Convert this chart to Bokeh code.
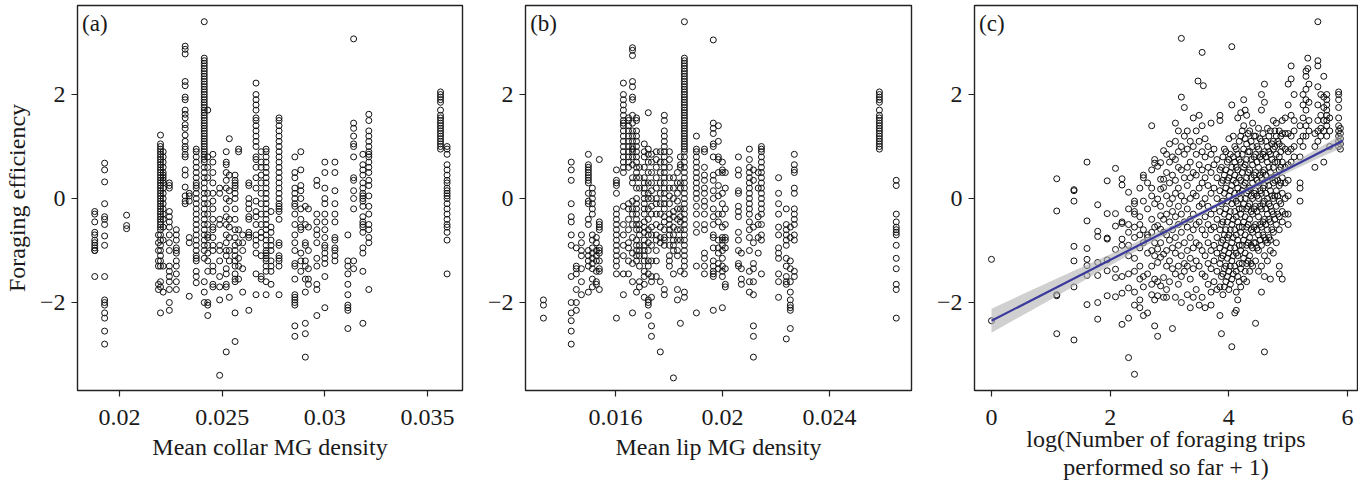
from bokeh.plotting import figure
from bokeh.layouts import row
from bokeh.models import Range1d, FixedTicker, CustomJSTickFormatter, Label
from bokeh.embed import file_html
from bokeh.resources import INLINE

FONT = "Liberation Serif"

# ---------------- Panel (a): mean collar MG density ----------------
a_density = [0.01880, 0.01928, 0.02035, 0.02190, 0.02200, 0.02213, 0.02243, 0.02277,
             0.02320, 0.02340, 0.02374, 0.02413, 0.02430, 0.02455, 0.02488, 0.02520,
             0.02535, 0.02563, 0.02580, 0.02600, 0.02630, 0.02665, 0.02690, 0.02714,
             0.02738, 0.02777, 0.02854, 0.02883, 0.02905, 0.02920, 0.02961, 0.03000,
             0.03049, 0.03112, 0.03140, 0.03185, 0.03214, 0.03563, 0.03595]
a_eff = [
    [-0.25, -0.3, -0.45, -0.65, -0.7, -0.8, -0.85, -0.9, -0.95, -1.0, -1.0, -1.5],
    [0.68, 0.55, 0.32, -0.1, -0.35, -0.4, -0.5, -0.72, -0.9, -1.5, -1.95, -2.0, -2.05, -2.2, -2.3, -2.55, -2.8],
    [-0.32, -0.52, -0.58],
    [-0.7, -0.85, -1.0, -1.2, -1.3, -1.65, -1.75],
    [1.22, 1.05, 1.0, 0.95, 0.9, 0.85, 0.8, 0.75, 0.7, 0.65, 0.6, 0.55, 0.5, 0.45, 0.4, 0.35, 0.3, 0.25,
     0.2, 0.15, 0.1, 0.05, 0.0, -0.05, -0.1, -0.15, -0.2, -0.25, -0.3, -0.35, -0.4, -0.45, -0.5, -0.55,
     -0.6, -0.7, -0.8, -0.9, -1.0, -1.1, -1.2, -1.3, -1.6, -1.7, -2.2],
    [0.9, 0.8, 0.7, 0.6, 0.5, 0.45, 0.4, 0.35, 0.3, 0.2, 0.1, 0.0, -0.1, -0.2, -0.3, -0.4, -0.55, -0.8, -1.3, -1.8],
    [0.3, 0.25, 0.2, -0.25, -0.35, -0.45, -0.55, -0.7, -0.85, -1.0, -1.3, -1.4, -1.5, -1.6, -1.75, -2.0, -2.15],
    [-0.6, -0.7, -0.8, -0.95, -1.0, -1.05, -1.2, -1.3, -1.45, -1.6, -1.75],
    [2.93, 2.87, 2.78, 2.25, 2.17, 1.95, 1.9, 1.7, 1.62, 1.55, 1.42, 1.35, 1.22, 1.1, 1.0, 0.95, 0.85,
     0.8, 0.55, 0.45, 0.22, 0.05, -0.05, -0.1],
    [0.1, 0.05, -0.05, -0.75, -0.85, -1.88],
    [0.95, 0.9, 0.8, 0.7, 0.6, 0.5, 0.4, 0.3, 0.25, 0.2, 0.1, 0.0, -0.1, -0.2, -0.3, -0.4, -0.5, -0.6,
     -0.7, -0.8, -0.9, -1.0, -1.1, -1.15, -1.2, -1.4, -1.5, -1.62],
    [3.4, 2.7, 2.65, 2.6, 2.55, 2.5, 2.45, 2.4, 2.35, 2.3, 2.25, 2.2, 2.15, 2.1, 2.05, 2.0, 1.95, 1.9,
     1.85, 1.8, 1.75, 1.7, 1.65, 1.6, 1.55, 1.5, 1.45, 1.4, 1.35, 1.3, 1.25, 1.2, 1.15, 1.1, 1.05, 1.0,
     0.95, 0.9, 0.85, 0.8, 0.75, 0.7, 0.6, 0.5, 0.4, 0.3, 0.2, 0.1, 0.0, -0.1, -0.2, -0.3, -0.4, -0.5,
     -0.6, -0.7, -0.8, -0.9, -1.0, -1.15, -1.6, -1.8, -2.0],
    [1.7, 0.8, 0.6, 0.4, 0.1, -0.1, -0.3, -0.5, -0.7, -0.75, -0.9, -1.05, -1.2, -1.4, -2.0, -2.05, -2.25],
    [0.85, 0.7, 0.5, 0.3, 0.1, -0.05, -0.2, -0.4, -0.55, -0.6, -0.75, -0.9, -1.0, -1.3, -1.4, -1.65, -1.7],
    [0.2, 0.1, -0.4, -0.5, -0.9, -1.0, -1.2, -1.5, -1.7, -1.95, -3.4],
    [0.9, 0.7, 0.65, 0.5, 0.35, 0.2, 0.0, -0.2, -0.35, -0.5, -0.7, -0.85, -1.0, -1.1, -1.35, -1.45,
     -1.65, -1.7, -2.95],
    [1.15, 0.45, 0.15, -0.05, -0.4, -0.55, -0.75, -1.0, -1.2, -1.9],
    [0.45, 0.35, 0.3, 0.25, 0.2, 0.1, 0.0, -0.2, -0.4, -0.6, -0.75, -0.9, -1.0, -1.1, -1.2, -1.3,
     -1.45, -1.55, -1.6, -2.2, -2.75],
    [0.95, 0.9, -0.6, -0.85, -1.15, -1.3, -1.55],
    [-0.7, -0.85, -1.0, -1.35, -1.8],
    [0.3, 0.25, 0.0, -0.1, -0.2, -0.35, -0.4, -0.65, -0.7, -0.75, -2.15],
    [2.22, 2.0, 1.9, 1.8, 1.7, 1.55, 1.5, 1.4, 1.3, 1.2, 1.1, 1.0, 0.8, 0.75, 0.6, 0.4, 0.2, -0.05,
     -0.25, -0.35, -0.5, -0.7, -0.8, -0.9, -1.05, -1.45, -1.85],
    [0.9, 0.7, 0.6, 0.45, 0.3, 0.1, -0.1, -0.3, -0.5, -0.65, -0.75, -1.1, -1.5, -1.55],
    [0.95, 0.9, 0.8, 0.7, 0.6, 0.5, 0.4, 0.3, 0.2, 0.1, 0.0, -0.1, -0.2, -0.3, -0.4, -0.5, -0.6, -0.7,
     -0.8, -0.9, -1.0, -1.05, -1.1, -1.15, -1.2, -1.3, -1.4, -1.6, -1.85],
    [-0.25, -0.55, -0.65, -0.8, -0.9, -1.0, -1.2, -1.3, -1.4, -1.65],
    [1.55, 1.5, 1.4, 1.3, 1.2, 1.1, 1.0, 0.9, 0.8, 0.7, 0.6, 0.5, 0.4, 0.3, 0.2, 0.1, 0.0, -0.1,
     -0.15, -0.2, -0.25, -0.4, -0.85, -0.9, -1.1, -1.15, -1.2, -1.3, -1.85],
    [0.8, 0.5, 0.4, 0.2, 0.1, 0.0, -0.1, -0.15, -0.3, -0.5, -0.7, -0.85, -1.0, -1.25, -1.3, -1.55,
     -1.85, -1.9, -1.95, -2.0, -2.05, -2.45, -2.65],
    [0.9, 0.55, 0.25, 0.15, 0.0, -0.2, -0.4, -0.55, -0.6, -1.05, -1.2, -1.4],
    [-0.15, -0.5, -0.85, -0.9, -1.2, -1.3, -1.55, -1.8, -2.4, -2.6, -3.05],
    [-0.2, -0.55, -1.0, -1.35, -1.55, -1.65],
    [0.35, 0.25, -0.3, -0.45, -0.6, -0.7, -0.85, -1.15, -1.3, -1.65, -1.75, -2.25],
    [0.7, 0.5, 0.2, 0.0, -0.1, -0.3, -0.45, -0.6, -0.75, -0.9, -0.95, -1.05, -1.15, -1.25, -1.5, -2.1],
    [0.7, 0.5, 0.15, -0.1, -0.3, -0.45, -0.75, -0.8, -0.95, -1.0, -1.1, -1.2],
    [-0.7, -1.2, -1.3, -1.45, -1.65, -1.85, -2.05, -2.1, -2.15, -2.5],
    [3.07, 1.45, 1.35, 1.2, 1.05, 1.0, 0.8, 0.4, 0.35, 0.15, 0.0, -0.2, -1.2, -1.35],
    [0.85, 0.65, 0.55, 0.45, 0.3, 0.2, 0.1, 0.05, 0.0, -0.05, -0.15, -0.35, -0.45, -0.5, -0.55, -0.65,
     -0.95, -1.05, -1.4, -2.4],
    [1.62, 1.5, 1.3, 1.2, 1.1, 1.0, 0.9, 0.85, 0.8, 0.7, 0.6, 0.5, 0.35, 0.25, 0.05, -0.15, -0.3,
     -0.5, -0.6, -0.75, -0.85, -1.75],
    [2.05, 2.0, 1.95, 1.9, 1.85, 1.7, 1.6, 1.55, 1.5, 1.45, 1.4, 1.35, 1.3, 1.25, 1.2, 1.15, 1.1,
     1.05, 1.0, 0.95],
    [1.0, 0.95, 0.85, 0.65, 0.55, 0.45, 0.35, 0.3, 0.2, 0.15, 0.1, 0.05, 0.0, -0.1, -0.2, -0.3, -0.4,
     -0.5, -0.55, -0.65, -0.8, -1.45],
]

# ---------------- Panel (b): mean lip MG density ----------------
b_density = [0.01331, 0.01435, 0.01454, 0.01473, 0.01499, 0.01514, 0.01529, 0.01540, 0.01604,
             0.01630, 0.01649, 0.01664, 0.01679, 0.01690, 0.01708, 0.01723, 0.01735, 0.01753,
             0.01768, 0.01783, 0.01802, 0.01817, 0.01832, 0.01843, 0.01858, 0.01903, 0.01933,
             0.01966, 0.01985, 0.02000, 0.02011, 0.02060, 0.02071, 0.02101, 0.02116, 0.02134,
             0.02146, 0.02210, 0.02239, 0.02254, 0.02269, 0.02587, 0.02650]
b_eff = [
    [-1.95, -2.05, -2.3],
    [0.7, 0.55, 0.35, -0.1, -0.35, -0.45, -0.7, -0.9, -1.5, -2.0, -2.2, -2.35, -2.55, -2.8],
    [-0.95, -1.3, -1.35, -1.45, -1.75, -2.0, -2.15],
    [-0.7, -0.85, -1.0, -1.1, -1.35, -1.6, -1.85],
    [0.85, 0.65, 0.6, 0.55, 0.5, 0.45, 0.4, 0.35, 0.3, 0.1, -0.05, -0.1, -0.4, -0.5, -1.0, -1.1, -1.2, -1.3, -1.8],
    [0.2, 0.1, 0.0, -0.1, -0.2, -0.3, -0.7, -0.8, -0.95, -1.05, -1.15, -1.25, -1.35, -1.55, -1.7],
    [-0.75, -0.85, -1.0, -1.1, -1.2, -1.4, -1.6, -1.65],
    [0.75, -0.45, -0.5, -0.55, -0.6, -0.95, -1.0, -1.05, -1.2, -1.35, -1.4, -1.75],
    [0.55, 0.35, 0.3, 0.25, 0.1, -0.2, -0.3, -0.4, -0.5, -0.6, -0.7, -0.8, -0.9, -1.0, -1.1, -1.2,
     -1.3, -1.45, -2.3],
    [2.22, 2.0, 1.9, 1.8, 1.7, 1.6, 1.5, 1.45, 1.4, 1.3, 1.2, 1.1, 1.0, 0.9, 0.8, 0.7, 0.6, 0.5,
     -0.15, -0.5, -0.7, -0.9, -1.1, -1.45, -1.85],
    [1.55, 1.5, 1.4, 1.3, 1.2, 1.1, 1.0, 0.9, 0.8, 0.7, 0.6, -0.1, -0.2, -0.4, -0.6, -0.85, -0.95, -1.2, -1.45],
    [2.9, 2.85, 2.75, 2.25, 2.15, 1.95, 1.9, 1.6, 1.45, 1.3, 1.2, 1.1, 1.0, 0.95, 0.9, 0.8, 0.65,
     0.4, 0.3, -0.05, -0.2, -0.3, -0.5, -0.75, -1.05, -1.25, -1.6, -2.2],
    [1.55, 1.5, 1.3, 1.2, 1.1, 1.0, 0.9, 0.8, 0.7, 0.6, 0.5, 0.4, 0.2, 0.0, -0.1, -0.2, -0.3, -0.4,
     -0.5, -0.6, -0.8, -0.9, -1.0, -1.1, -1.2, -1.8],
    [0.6, 0.4, 0.2, -0.5, -0.6, -0.7, -0.9, -1.0, -1.1, -1.3, -1.6, -1.7],
    [1.05, 0.9, 0.8, 0.6, 0.4, 0.3, 0.2, 0.1, 0.0, -0.1, -0.2, -0.3, -0.45, -0.55, -0.65, -0.8, -0.9,
     -1.0, -1.1, -1.2, -1.4, -1.5, -1.65, -1.9],
    [1.65, 0.95, 0.85, 0.7, 0.5, 0.3, 0.1, 0.0, -0.2, -0.4, -0.6, -0.7, -0.85, -1.0, -1.2, -1.3,
     -1.45, -1.95, -2.0, -2.05, -2.25],
    [0.85, 0.7, 0.5, 0.3, 0.15, 0.0, -0.15, -0.3, -0.55, -0.7, -0.9, -1.2, -1.5, -1.6, -1.9, -2.45, -2.65],
    [0.9, 0.75, 0.6, 0.4, 0.2, 0.0, -0.1, -0.3, -0.5, -0.7, -0.8, -1.0, -1.2, -1.5],
    [0.9, 0.7, 0.5, 0.3, 0.1, -0.1, -0.3, -0.55, -0.75, -0.85, -1.6, -2.95],
    [1.6, 1.5, 1.3, 1.2, 1.1, 1.0, 0.9, 0.8, 0.7, 0.6, 0.5, 0.4, 0.3, 0.2, 0.1, 0.0, -0.1, -0.2,
     -0.35, -0.45, -0.6, -0.75, -0.8, -0.9, -1.75, -1.85],
    [0.9, 0.75, 0.6, 0.4, 0.2, 0.05, -0.1, -0.3, -0.4, -0.5, -0.6, -0.7, -0.9, -1.1, -1.2, -1.3],
    [0.4, 0.2, 0.0, -0.25, -0.35, -0.55, -0.7, -0.8, -0.9, -1.0, -1.45, -3.45],
    [0.5, 0.3, 0.1, -0.05, -0.2, -0.4, -0.6, -0.8, -1.0, -1.1, -1.75, -1.95],
    [0.8, 0.65, 0.6, 0.3, 0.2, -0.2, -0.35, -0.45, -0.6, -0.8, -1.4, -2.4],
    [3.4, 2.7, 2.65, 2.6, 2.55, 2.5, 2.45, 2.4, 2.35, 2.3, 2.25, 2.2, 2.15, 2.1, 2.05, 2.0, 1.95,
     1.9, 1.85, 1.8, 1.75, 1.7, 1.65, 1.6, 1.55, 1.5, 1.45, 1.4, 1.35, 1.3, 1.25, 1.2, 1.15, 1.1,
     1.05, 1.0, 0.95, 0.9, 0.8, 0.7, 0.6, 0.5, 0.4, 0.3, 0.2, 0.1, 0.0, -0.1, -0.2, -0.3, -0.4,
     -0.5, -0.6, -0.7, -0.8, -0.9, -1.0, -1.1, -1.2, -1.3, -1.45, -1.8, -1.9],
    [1.2, 0.95, 0.9, 0.8, 0.7, 0.6, 0.5, 0.4, 0.3, 0.2, 0.1, 0.0, -0.15, -0.3, -0.5, -0.65, -1.3, -2.2],
    [0.95, 0.9, 0.6, 0.45, 0.35, 0.2, 0.1, -0.05, -0.15, -0.3, -0.5, -0.6, -1.05, -1.15, -1.3, -1.45],
    [3.05, 1.45, 1.35, 1.25, 1.05, 1.0, 0.8, 0.45, 0.35, 0.15, 0.0, -0.2, -0.35, -0.5, -0.7, -0.75,
     -0.95, -1.2, -1.3, -1.4, -1.45, -1.5, -2.15],
    [1.4, 1.1, 0.8, 0.75, 0.5, 0.25, 0.05, -0.3, -0.45, -0.8, -0.95, -1.05, -1.25, -1.35],
    [0.7, 0.55, 0.5, 0.1, -0.1, -0.3, -0.55, -0.75, -0.8, -0.9, -1.0, -1.15, -1.3, -1.4, -1.5, -2.1],
    [0.5, 0.2, -0.2, -0.5, -0.75, -0.8, -0.95, -1.35, -1.65, -1.7],
    [0.8, 0.55, 0.45, 0.15, 0.1, -0.15, -0.25, -0.35, -0.65, -0.8, -1.0, -1.25, -1.3],
    [-1.05, -1.35, -1.55, -1.65],
    [0.95, 0.75, 0.6, 0.5, 0.4, 0.3, 0.2, 0.1, 0.0, -0.1, -0.2, -0.3, -0.45, -0.6, -0.75, -1.0,
     -1.4, -1.6, -1.8],
    [0.55, 0.35, -0.55, -0.85, -1.25, -1.35, -1.6, -1.85, -2.45, -2.65, -3.05],
    [0.5, 0.2, -0.35, -0.5, -0.75, -1.05],
    [1.0, 0.95, 0.9, 0.8, 0.7, 0.6, 0.5, 0.4, 0.3, 0.2, 0.1, 0.0, -0.1, -0.2, -0.3, -0.5, -0.7, -0.8, -1.45],
    [0.4, 0.1, -0.1, -0.3, -0.55, -0.7, -0.95, -1.05, -1.15, -1.45, -1.6, -1.9],
    [-0.2, -0.5, -0.6, -0.7, -0.8, -0.9, -1.15, -1.3, -1.5, -1.6, -1.65, -2.7],
    [-0.55, -0.75, -1.2, -1.35, -1.6, -1.8, -1.95, -2.05, -2.1, -2.15, -2.5],
    [0.85, 0.65, 0.55, 0.5, 0.2, 0.1, -0.2, -0.3, -0.4, -0.5, -0.7, -0.8, -1.4, -1.5],
    [2.05, 2.0, 1.95, 1.9, 1.85, 1.7, 1.6, 1.55, 1.5, 1.45, 1.4, 1.35, 1.3, 1.25, 1.2, 1.15, 1.1,
     1.05, 1.0, 0.95],
    [0.35, 0.25, -0.3, -0.45, -0.55, -0.6, -0.65, -0.7, -0.9, -1.15, -1.35, -1.65, -1.75, -2.3],
]

# ---------------- Panel (c): log(number of trips + 1) ----------------
c_trips = [0.00, 1.10, 1.39, 1.61, 1.79, 1.95, 2.09, 2.20, 2.31, 2.41, 2.50, 2.56, 2.63, 2.70,
           2.75, 2.80, 2.85, 2.90, 2.95, 3.00, 3.05, 3.10, 3.15, 3.20, 3.25, 3.30, 3.35, 3.40,
           3.45, 3.48, 3.50, 3.55, 3.57, 3.60, 3.65, 3.70, 3.75, 3.80, 3.85, 3.875, 3.90, 3.925,
           3.95, 3.975, 4.00, 4.025, 4.05, 4.075, 4.10, 4.125, 4.15, 4.175, 4.20, 4.225, 4.25,
           4.275, 4.30, 4.325, 4.35, 4.375, 4.40, 4.425, 4.45, 4.475, 4.50, 4.525, 4.55, 4.575,
           4.60, 4.625, 4.65, 4.675, 4.70, 4.725, 4.75, 4.775, 4.80, 4.825, 4.85, 4.875, 4.90,
           4.95, 5.00, 5.05, 5.10, 5.20, 5.25, 5.30, 5.33, 5.35, 5.45, 5.50, 5.55, 5.60, 5.65,
           5.70, 5.85, 5.88]
c_eff = [
    [-1.17, -2.35],
    [0.38, -0.24, -1.85, -1.87, -2.6],
    [0.17, 0.15, -0.05, -0.92, -1.2, -1.7, -2.72],
    [0.7, -0.43, -0.96, -1.17, -1.29, -1.48, -2.04],
    [-0.12, -0.63, -0.73, -1.23, -1.48, -2.0, -2.32],
    [0.34, -0.29, -0.76, -0.78, -1.18, -1.39, -1.87],
    [0.58, -0.29, -0.53, -0.98, -1.36, -1.52, -1.89],
    [0.38, 0.26, -0.45, -0.48, -0.78, -0.9, -1.5, -1.82, -2.42],
    [0.12, -0.2, -0.5, -0.65, -0.9, -1.1, -1.45, -1.72, -2.3, -3.06],
    [-0.05, -0.1, -0.25, -0.3, -0.55, -0.75, -1.15, -1.4, -1.8, -2.05, -3.38],
    [0.2, -0.35, -0.5, -0.7, -0.95, -1.3, -1.55, -1.95, -2.1],
    [0.45, 0.4, -0.05, -0.6, -0.85, -1.5, -1.7, -2.25],
    [0.3, -0.2, -0.7, -0.75, -1.05, -1.45, -2.2],
    [1.4, 0.55, 0.2, 0.05, -0.4, -0.65, -1.0, -1.3, -1.65, -1.85],
    [0.75, 0.68, -0.1, -0.55, -0.85, -1.1, -1.55, -1.95, -2.45],
    [0.62, -0.01, -0.52, -0.97, -1.23, -1.6, -1.87, -2.65],
    [0.69, 0.37, 0.18, -0.15, -0.33, -0.59, -0.85, -1.13, -1.68],
    [0.92, 0.37, 0.21, -0.4, -0.65, -1.07, -1.52, -1.9],
    [0.85, 0.5, 0.05, -0.3, -0.7, -1.0, -1.3, -1.75, -1.9],
    [1.05, 0.7, 0.3, -0.1, -0.45, -0.8, -1.2, -1.6],
    [0.8, 0.45, 0.0, -0.25, -0.6, -0.95, -1.35, -2.5],
    [1.45, 1.1, 0.75, 0.35, 0.1, -0.35, -0.75, -1.05, -1.45, -1.9],
    [1.3, 0.9, 0.6, 0.2, -0.15, -0.5, -0.9, -1.3, -1.65],
    [3.08, 1.95, 1.0, 0.55, 0.05, -0.3, -0.65, -1.1, -1.5, -2.0],
    [1.75, 1.2, 0.85, 0.4, -0.05, -0.45, -0.85, -1.25, -1.4],
    [1.3, 0.95, 0.6, 0.25, -0.2, -0.55, -1.0, -1.3, -1.85],
    [1.1, 0.7, 0.4, 0.0, -0.4, -0.75, -1.15, -1.55, -2.1],
    [1.55, 1.0, 0.5, 0.1, -0.3, -0.6, -0.95, -1.35, -1.9],
    [1.3, 0.85, 0.45, 0.05, -0.5, -0.85, -1.2, -1.75],
    [2.26],
    [1.6, 1.1, 0.65, 0.2, -0.15, -0.45, -0.9, -1.3, -2.05],
    [2.81, 1.4, 0.9, 0.55, 0.3, -0.1, -0.6, -1.0, -1.45, -1.9],
    [2.17],
    [1.15, 0.8, 0.4, 0.0, -0.35, -0.7, -1.1, -1.5, -2.1],
    [1.0, 0.6, 0.25, -0.15, -0.5, -0.85, -1.25, -1.65],
    [1.45, 0.85, 0.5, 0.1, -0.3, -0.6, -1.0, -1.35, -1.8, -2.05],
    [0.95, 0.65, 0.2, -0.2, -0.55, -0.9, -1.2, -1.6],
    [0.75, 0.4, 0.0, -0.4, -0.75, -1.05, -1.4, -1.75],
    [1.6, 1.5, 0.55, 0.15, -0.25, -0.6, -0.95, -1.25, -1.7, -2.25],
    [0.6, 0.3, -0.1, -0.5, -0.85, -1.15, -1.5, -2.6],
    [0.8, 0.35, -0.05, -0.45, -0.8, -1.1, -1.45, -1.85],
    [0.95, 0.45, 0.1, -0.3, -0.7, -1.0, -1.35, -1.7],
    [0.9, 0.55, 0.2, -0.2, -0.6, -0.9, -1.3, -1.6],
    [0.7, 0.35, -0.05, -0.45, -0.75, -1.15, -1.5],
    [1.15, 0.75, 0.4, 0.05, -0.35, -0.7, -1.05, -1.4, -1.75],
    [0.85, 0.5, 0.15, -0.25, -0.6, -0.95, -1.3, -1.65],
    [2.92, 1.8, 0.6, 0.25, -0.1, -0.5, -0.85, -1.2, -1.55, -2.85],
    [1.2, 0.8, 0.35, 0.0, -0.4, -0.75, -1.1, -1.45],
    [1.0, 0.7, 0.45, 0.1, -0.25, -0.6, -0.95, -1.3, -2.2],
    [0.95, 0.6, 0.3, -0.05, -0.35, -0.7, -1.05, -1.4, -1.8, -2.15],
    [1.55, 0.85, 0.55, 0.2, -0.1, -0.45, -0.8, -1.1, -1.5, -1.95],
    [1.1, 0.75, 0.4, 0.1, -0.2, -0.55, -0.9, -1.25, -1.6],
    [1.65, 1.2, 0.7, 0.35, 0.0, -0.3, -0.65, -1.0, -1.35, -1.7],
    [1.3, 0.85, 0.5, 0.15, -0.2, -0.55, -0.9, -1.25],
    [1.9, 1.4, 0.95, 0.6, 0.25, -0.1, -0.45, -0.8, -1.15, -1.55],
    [1.7, 1.15, 0.65, 0.3, 0.0, -0.35, -0.7, -1.05, -1.4],
    [1.6, 1.05, 0.75, 0.4, 0.1, -0.2, -0.55, -0.9, -1.25, -1.6],
    [1.25, 0.9, 0.5, 0.15, -0.15, -0.5, -0.85, -1.2],
    [1.3, 0.9, 0.55, 0.2, -0.1, -0.4, -0.75, -1.1, -1.4],
    [1.1, 0.75, 0.4, 0.05, -0.25, -0.6, -0.9, -1.25],
    [1.45, 1.0, 0.65, 0.3, 0.0, -0.3, -0.65, -0.95, -1.3],
    [1.2, 0.8, 0.45, 0.1, -0.2, -0.55, -0.85],
    [1.2, 0.85, 0.5, 0.15, -0.15, -0.5, -0.85, -1.2, -2.4],
    [1.0, 0.7, 0.35, 0.05, -0.25, -0.6, -0.95],
    [1.35, 0.95, 0.6, 0.3, 0.0, -0.35, -0.7, -1.0, -1.4],
    [1.15, 0.8, 0.45, 0.15, -0.15, -0.5, -0.8],
    [2.0, 1.7, 1.1, 0.75, 0.4, 0.1, -0.2, -0.55, -0.9, -1.3, -1.8],
    [1.25, 0.85, 0.5, 0.2, -0.1, -0.45, -0.7],
    [2.2, 1.85, 0.9, 0.55, 0.25, -0.05, -0.4, -0.75, -1.1, -1.5, -2.95],
    [1.1, 0.8, 0.45, 0.1, -0.2, -0.5, -0.8],
    [1.35, 1.0, 0.7, 0.35, 0.0, -0.3, -0.6, -0.85, -1.2],
    [1.2, 0.9, 0.6, 0.25, -0.1, -0.4, -0.75],
    [1.3, 0.85, 0.5, 0.15, -0.15, -0.45, -0.8, -1.0, -1.55],
    [1.05, 0.75, 0.4, 0.05, -0.25, -0.6],
    [1.5, 1.1, 0.95, 0.6, 0.3, 0.0, -0.3, -0.65, -1.05],
    [1.3, 1.0, 0.7, 0.35, 0.05, -0.4],
    [1.45, 1.2, 0.85, 0.45, 0.15, -0.15, -0.5, -0.85],
    [1.1, 0.7, 0.35, 0.05, -0.3],
    [1.3, 1.05, 0.8, 0.55, 0.25, -0.05, -0.35, -0.6, -1.3, -1.45],
    [1.2, 0.9, 0.6, 0.3, -0.1],
    [1.5, 1.25, 1.0, 0.7, 0.4, 0.1, -0.25, -0.45, -1.55],
    [1.55, 1.25, 0.95, 0.6, 0.3, 0.0, -0.3],
    [2.2, 1.8, 1.25, 0.9, 0.65, 0.35, 0.05, -0.3, -0.5],
    [2.55, 2.3, 1.6, 1.2, 0.95, 0.7],
    [2.0, 1.5, 1.3, 1.0, 0.8],
    [1.4, 1.1, 0.8, 0.3, 0.2, -0.05],
    [2.0, 1.8, 1.55, 1.2, 1.0],
    [2.45, 2.35, 2.1, 1.9, 1.7, 1.4, 1.2],
    [2.7, 2.5],
    [2.2, 1.85, 1.5, 1.3],
    [1.25, 1.0, 0.6],
    [3.4, 2.65, 2.55, 2.15, 1.8, 1.5, 1.3, 1.1],
    [2.0, 1.6, 1.35, 1.2],
    [2.35, 1.95, 1.75, 1.5, 1.3, 0.7],
    [2.0, 1.9, 1.8, 1.7, 1.6, 1.5, 1.4, 1.2],
    [1.55, 1.3, 1.0],
    [2.05, 2.0, 1.9, 1.75, 1.55, 1.4, 1.3, 1.2, 1.1, 1.0],
    [1.35, 1.25, 1.15, 1.05, 0.95],
]

# fitted line and its confidence band (panel c)
fit_x = [0.0, 5.92]
fit_y = [-2.35, 1.11]
band_x = [0.0, 1.0, 2.0, 3.0, 3.5, 4.0, 4.5, 5.0, 5.5, 5.92]
band_lo = [-2.58, -1.94, -1.29, -0.66, -0.35, -0.05, 0.23, 0.50, 0.77, 0.98]
band_hi = [-2.12, -1.59, -1.07, -0.54, -0.26, 0.03, 0.33, 0.64, 0.96, 1.24]

y_ticks = [-2, 0, 2]
a_ticks = [0.02, 0.025, 0.03, 0.035]
b_ticks = [0.016, 0.02, 0.024]
c_ticks = [0, 2, 4, 6]
Y_RANGE = (-3.692, 3.712)


def expand(xs, yss):
    X, Y = [], []
    for x, ys in zip(xs, yss):
        X += [x] * len(ys)
        Y += list(ys)
    return X, Y


def make_fig(xr, ticks, xlabel, ylabel, tag, left, fw, right, xlabel_standoff=6):
    p = figure(output_backend="svg", toolbar_location=None,
               x_range=Range1d(*xr), y_range=Range1d(*Y_RANGE),
               frame_width=fw, frame_height=385,
               min_border_left=left, min_border_right=right,
               min_border_top=5, min_border_bottom=78)
    p.grid.visible = False
    p.outline_line_color = "#222222"
    p.outline_line_width = 1.4
    p.outline_line_alpha = 1.0
    p.background_fill_color = "white"
    p.border_fill_color = "white"
    fmt = CustomJSTickFormatter(code="return String(tick).replace('-', '\\u2212');")
    p.xaxis.ticker = FixedTicker(ticks=ticks)
    p.yaxis.ticker = FixedTicker(ticks=y_ticks)
    for ax in (p.xaxis[0], p.yaxis[0]):
        ax.formatter = fmt
        ax.axis_line_color = None
        ax.major_tick_line_color = "#222222"
        ax.major_tick_line_width = 1.2
        ax.major_tick_out = 6
        ax.major_tick_in = 0
        ax.minor_tick_line_color = None
        ax.major_label_text_font = FONT
        ax.major_label_text_font_size = "24px"
        ax.major_label_text_color = "#1a1a1a"
        ax.axis_label_text_font = FONT
        ax.axis_label_text_font_size = "24px"
        ax.axis_label_text_font_style = "normal"
        ax.axis_label_text_color = "#1a1a1a"
        ax.axis_label_text_line_height = 1.1
    p.xaxis.major_label_standoff = 13
    p.yaxis.major_label_standoff = 6
    p.xaxis.axis_label = xlabel
    p.xaxis.axis_label_standoff = xlabel_standoff
    if ylabel:
        p.yaxis.axis_label = ylabel
        p.yaxis.axis_label_standoff = 7
    span = xr[1] - xr[0]
    p.add_layout(Label(x=xr[0] + span * 0.012, y=Y_RANGE[1] - 0.1, text=tag,
                       text_font=FONT, text_font_size="23px", text_color="#1a1a1a",
                       text_baseline="top", text_align="left"))
    return p


def draw_points(p, x, y):
    p.scatter(x, y, marker="circle", size=6, fill_color=None,
              line_color="#111111", line_width=1.0)


pa = make_fig((0.01796, 0.0367), a_ticks, "Mean collar MG density",
              "Foraging efficiency", "(a)", 63, 385, 4)
ax_, ay_ = expand(a_density, a_eff)
draw_points(pa, ax_, ay_)

pb = make_fig((0.01264, 0.02707), b_ticks, "Mean lip MG density",
              None, "(b)", 59, 386, 5)
bx_, by_ = expand(b_density, b_eff)
draw_points(pb, bx_, by_)

pc = make_fig((-0.286, 6.168), c_ticks,
              "log(Number of foraging trips\nperformed so far + 1)",
              None, "(c)", 58, 383, 1, xlabel_standoff=-2)
cx_, cy_ = expand(c_trips, c_eff)
draw_points(pc, cx_, cy_)
pc.varea(x=band_x, y1=band_lo, y2=band_hi, fill_color="#b0b0b0", fill_alpha=0.6)
pc.line(fit_x, fit_y, line_color="#3a3a9c", line_width=2.2)

layout = row(pa, pb, pc, spacing=0)
open("out.html", "w").write(file_html(layout, INLINE))
